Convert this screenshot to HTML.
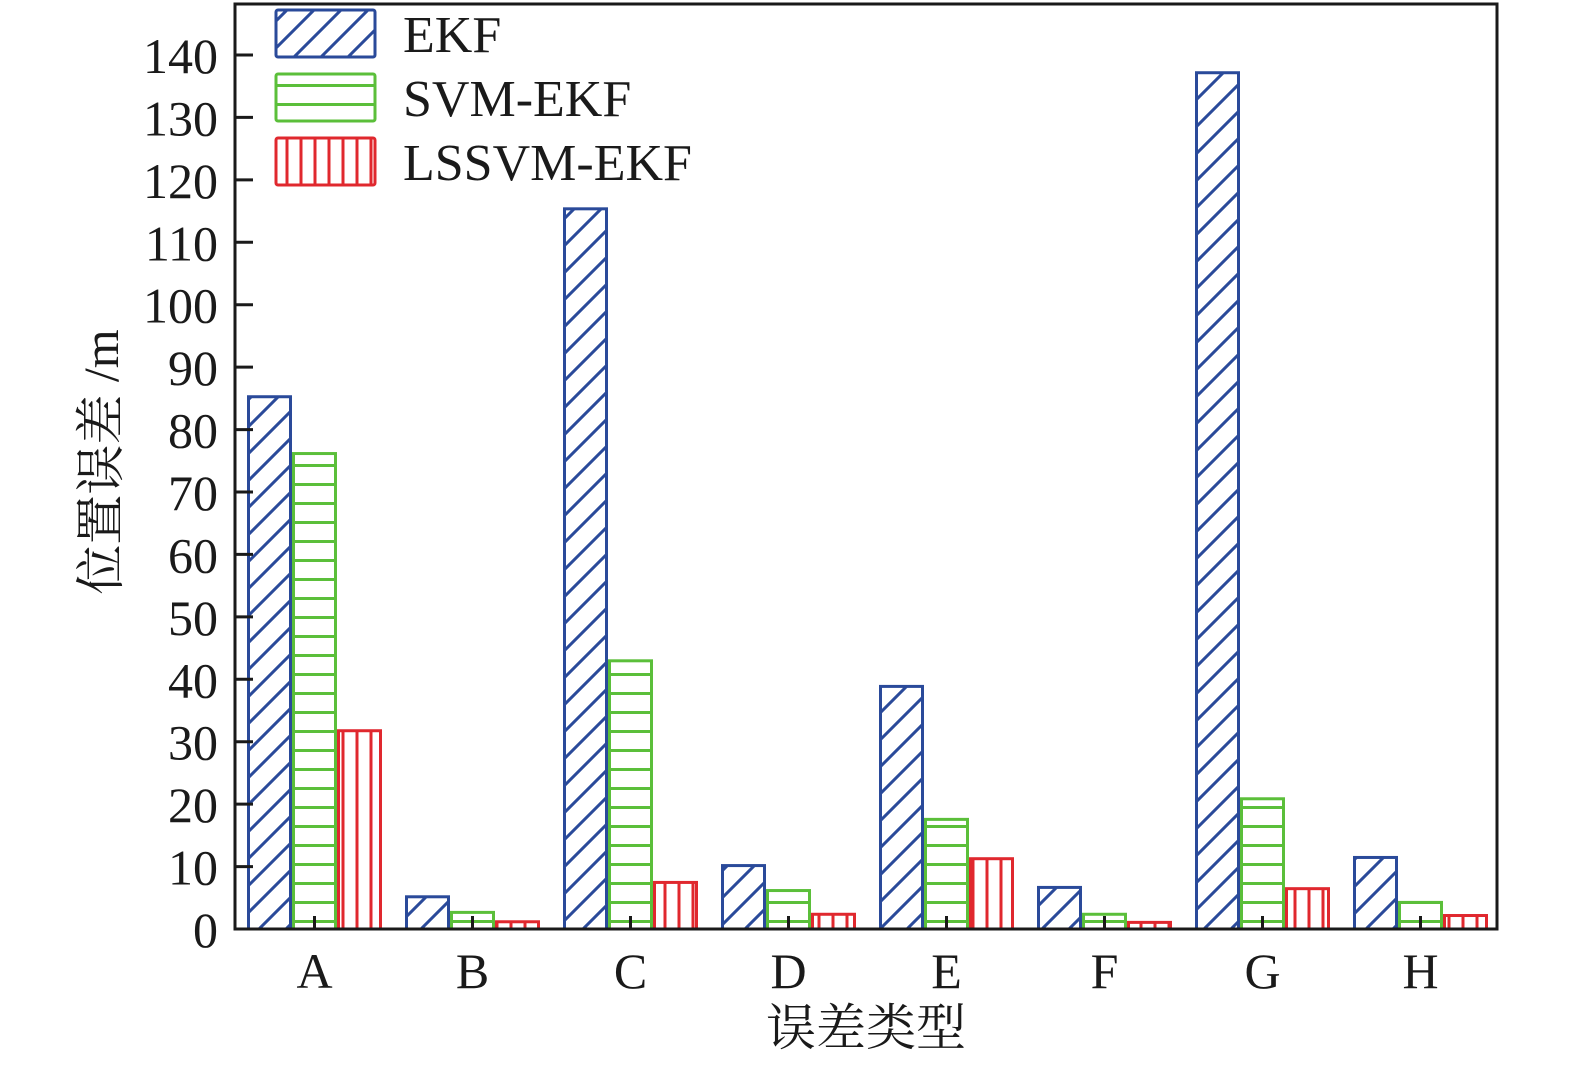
<!DOCTYPE html>
<html><head><meta charset="utf-8"><style>
body{margin:0;background:#fff;}
svg text{font-family:"Liberation Serif","Noto Serif CJK SC",serif;fill:#1a1a1a;}
</style></head><body>
<svg id="chart" width="1575" height="1061" xmlns="http://www.w3.org/2000/svg">
<defs>
<pattern id="pDiag" patternUnits="userSpaceOnUse" width="27" height="27">
<path d="M-2,29 L29,-2 M-2,2 L2,-2 M25,29 L29,25" stroke="#2a4a9a" stroke-width="3"/>
</pattern>
<pattern id="pHor" patternUnits="userSpaceOnUse" width="20" height="19">
<line x1="0" y1="9.5" x2="20" y2="9.5" stroke="#5bbf3a" stroke-width="3"/>
</pattern>
<pattern id="pVer" patternUnits="userSpaceOnUse" width="14" height="20">
<line x1="7" y1="0" x2="7" y2="20" stroke="#e0282e" stroke-width="3"/>
</pattern>
</defs>
<g id="bars"></g>
<g id="axes"></g>
</svg>
<script>
const categories = ["A","B","C","D","E","F","G","H"];
const seriesNames = ["EKF","SVM-EKF","LSSVM-EKF"];
const ekf = [85.5,5.4,115.6,10.4,39.1,6.9,137.4,11.7];
const svmEkf = [76.4,2.9,43.2,6.4,17.8,2.6,21.1,4.5];
const lssvmEkf = [32.0,1.4,7.7,2.6,11.5,1.3,6.7,2.4];
const yTicks = [0,10,20,30,40,50,60,70,80,90,100,110,120,130,140];

const NS="http://www.w3.org/2000/svg";
const X0=235,X1=1497,Y0=929,YT=4;
const yScale=v=>Y0-v*(929-55)/140;
const groupPitch=158, barW=45;
const xCenter=i=>314.5+i*groupPitch;
const series=[ekf,svmEkf,lssvmEkf];
const strokes=["#2a4a9a","#5bbf3a","#e0282e"];
const fills=["url(#pDiag)","url(#pHor)","url(#pVer)"];
function mk(tag,attrs,parent){const e=document.createElementNS(NS,tag);for(const k in attrs)e.setAttribute(k,attrs[k]);parent.appendChild(e);return e;}
const bars=document.getElementById('bars'), axes=document.getElementById('axes');
series.forEach((vals,s)=>{
  vals.forEach((v,i)=>{
    const x=xCenter(i)+(s-1)*barW-barW/2;
    const y=yScale(v);
    const r=mk('rect',{x:x+1.5,y:y+1.5,width:barW-3,height:Math.max(0,Y0-y-1.5),fill:fills[s],stroke:strokes[s],'stroke-width':3},bars);
    
    
  });
});
const fr=mk('rect',{x:X0,y:YT,width:X1-X0,height:Y0-YT,fill:'none',stroke:'#1a1a1a','stroke-width':3},axes);


yTicks.forEach(t=>{
  const y=yScale(t);
  const l=mk('line',{x1:X0,x2:X0+18,y1:y,y2:y,stroke:'#1a1a1a','stroke-width':3},axes);
  
  
  const tx=mk('text',{x:X0-17,y:y+18,'text-anchor':'end','font-size':50},axes);
  tx.textContent=t;
  
  
});
categories.forEach((c,i)=>{
  const x=xCenter(i);
  const l=mk('line',{x1:x,x2:x,y1:Y0,y2:Y0-13,stroke:'#1a1a1a','stroke-width':3},axes);
  
  
  const tx=mk('text',{x:x,y:988,'text-anchor':'middle','font-size':50},axes);
  tx.textContent=c;
  
  
});
const xt=mk('text',{x:866,y:1045,'text-anchor':'middle','font-size':50},axes);
xt.textContent='误差类型';


const yt=mk('text',{x:0,y:0,'text-anchor':'middle','font-size':50,transform:'translate(118,462) rotate(-90)'},axes);
yt.textContent='位置误差 /m';


const legTops=[10,74,138];
seriesNames.forEach((n,s)=>{
  const g=mk('g',{},axes);
  
  
  mk('rect',{x:276,y:legTops[s],width:99,height:47,fill:fills[s],stroke:strokes[s],'stroke-width':3,rx:2},g);
  const tx=mk('text',{x:403,y:legTops[s]+42,'font-size':52},g);
  tx.textContent=n;
});
</script>
</body></html>
